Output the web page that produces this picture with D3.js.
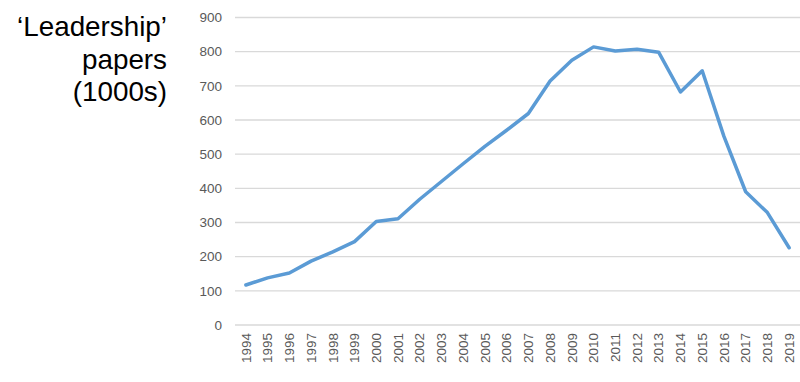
<!DOCTYPE html>
<html><head><meta charset="utf-8">
<script src="https://cdn.jsdelivr.net/npm/d3@7"></script>
<style>body{margin:0;background:#fff;}svg{display:block;}</style>
</head><body>
<svg id="c" width="800" height="382"></svg>
<script>
const years = ["1994","1995","1996","1997","1998","1999","2000","2001","2002","2003","2004","2005","2006","2007","2008","2009","2010","2011","2012","2013","2014","2015","2016","2017","2018","2019"];
const papers = [117,138,152,187,214,244,303,311,368,420,472,523,570,619,714,775,814,802,807,798,682,744,552,390,329,226];
const yTicks = [0,100,200,300,400,500,600,700,800,900];
const titleLines = ["\u2018Leadership\u2019","papers","(1000s)"];

const svg = d3.select("#c");
const x = d3.scaleBand().domain(years).range([235,800]);
const y = d3.scaleLinear().domain([0,900]).range([325,17.5]);

svg.append("g").selectAll("line").data(yTicks).join("line")
  .attr("x1",235).attr("x2",800)
  .attr("y1",d=>y(d)).attr("y2",d=>y(d))
  .attr("stroke","#d9d9d9").attr("stroke-width",1.3);

const yAxis = d3.axisLeft(y).tickValues(yTicks).tickSize(0).tickPadding(0);
const gy = svg.append("g").attr("transform","translate(222,0)").call(yAxis);
gy.select(".domain").remove();
gy.selectAll("text").attr("font-family","Liberation Sans, Arial, sans-serif").attr("font-size",13.5).attr("fill","#595959");

const xAxis = d3.axisBottom(x).tickSize(0).tickPadding(0);
const gx = svg.append("g").attr("transform","translate(0,333)").call(xAxis);
gx.select(".domain").remove();
gx.selectAll("text")
  .attr("font-family","Liberation Sans, Arial, sans-serif").attr("font-size",13.5).attr("fill","#595959")
  .attr("transform","rotate(-90)").attr("text-anchor","end").attr("x",0).attr("y",0).attr("dy","0.35em");

const line = d3.line().x((d,i)=>x(years[i])+x.bandwidth()/2).y(d=>y(d));
svg.append("path").datum(papers).attr("d",line)
  .attr("fill","none").attr("stroke","#5b9bd5").attr("stroke-width",3.5)
  .attr("stroke-linejoin","round").attr("stroke-linecap","round");

svg.append("g").selectAll("text").data(titleLines).join("text")
  .attr("x",167).attr("y",(d,i)=>36+i*32.5)
  .attr("text-anchor","end").attr("font-family","Liberation Sans, Arial, sans-serif")
  .attr("font-size",27.8).attr("fill","#000").text(d=>d);
</script>
</body></html>
